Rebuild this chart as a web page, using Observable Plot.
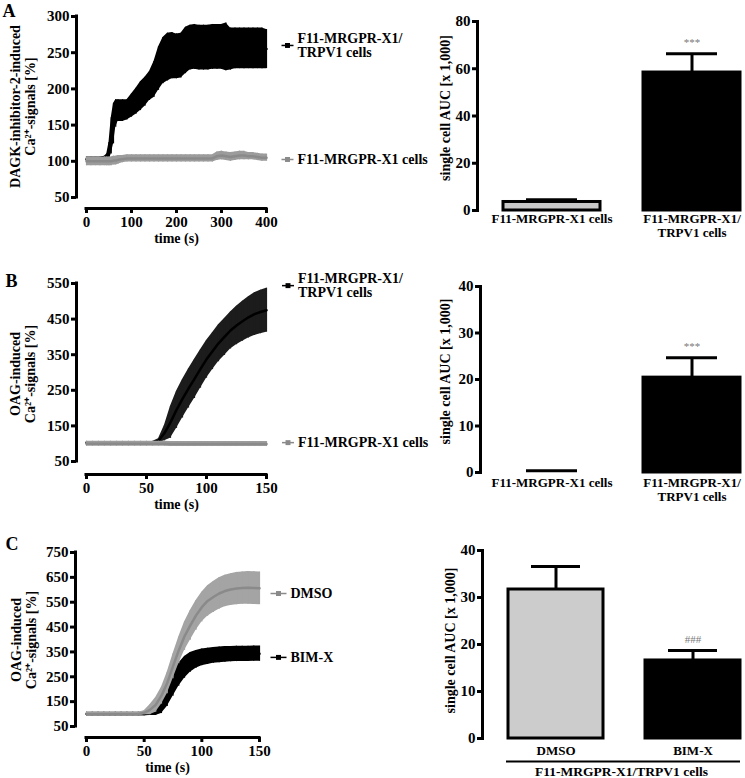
<!DOCTYPE html>
<html><head><meta charset="utf-8">
<script src="https://cdn.jsdelivr.net/npm/d3@7"></script>
<script src="https://cdn.jsdelivr.net/npm/@observablehq/plot@0.6"></script>
<style>
body{margin:0;background:#fff;}
#fig{position:relative;width:745px;height:778px;overflow:hidden;background:#fff;}
#fig > div{position:absolute;}
</style></head><body><div id="fig"></div>
<script>
// ---------- DATA ----------
// Panel A: DAGK-inhibitor-2-induced Ca2+ signals (time course)
const timeA = [0,10,20,30,40,45,50,55,60,65,70,80,90,100,110,120,130,140,150,160,170,180,190,200,210,220,230,240,250,260,270,280,290,300,310,320,330,340,350,360,370,380,390,400];
const trpv1A_mean = [103,103,103,103,104,106,114,135,152,166,170,170,171,177,183,190,196,204,213,228,239,244,246,245,246,253,257,258,257,257,257,258,258,258,258,255,256,256,256,256,256,256,256,255];
const trpv1A_sem  = [3,3,3,3,3,4,12,25,28,19,15,15,14,16,18,20,20,20,25,30,32,33,32,31,31,32,31,31,31,31,31,31,31,31,33,29,28,28,28,28,28,28,28,27];
const x1A_mean = [100,100,100,100,100,100,100,100,101,101,102,103,104,104,104,104,104,104,104,104,104,104,104,104,104,104,104,104,104,104,104,104,107,108,107,106,107,108,108,107,107,106,105,105];
const x1A_sem  = [6,6,6,6,6,6,6,6,6,6,6,5,5,5,5,5,5,5,5,5,5,5,5,5,5,5,5,5,5,5,5,5,6,6,6,6,6,6,6,5,5,5,5,5];
// Panel A: AUC
const aucCatsAB = ["F11-MRGPR-X1 cells", "F11-MRGPR-X1/\nTRPV1 cells"];
const aucA_mean = [3.6, 58.4];
const aucA_sem  = [0.9, 7.9];
const aucA_sig  = ["", "***"];

// Panel B: OAG-induced Ca2+ signals
const timeB = [0,5,10,15,20,25,30,35,40,45,50,55,60,65,70,75,80,85,90,95,100,105,110,115,120,125,130,135,140,145,150];
const trpv1B_mean = [103,103,103,103,103,103,103,103,103,103,103,103,108,130,160,195,226,255,282,310,337,360,382,400,418,432,444,455,464,470,475];
const trpv1B_sem  = [3,3,3,3,3,3,3,3,3,3,3,3,6,22,45,52,54,55,55,54,53,52,52,52,52,54,56,58,60,61,62];
const x1B_mean = [100,100,100,100,100,100,100,100,100,100,100,100,100,100,99,99,99,99,99,99,99,99,99,99,99,99,99,99,99,99,99];
const x1B_sem  = [7,7,7,7,7,7,7,7,7,7,7,7,7,7,7,7,7,7,7,7,7,7,7,7,7,7,7,7,7,7,7];
const aucB_mean = [0.3, 20.4];
const aucB_sem  = [0.1, 4.3];
const aucB_sig  = ["", "***"];

// Panel C: OAG-induced Ca2+ signals, DMSO vs BIM-X
const timeC = [0,5,10,15,20,25,30,35,40,45,50,55,60,65,70,75,80,85,90,95,100,105,110,115,120,125,130,135,140,145,150];
const dmsoC_mean = [100,100,100,100,100,100,100,100,100,100,105,117,137,174,225,292,356,413,457,497,530,555,571,585,595,601,605,607,608,607,606];
const dmsoC_sem  = [7,7,7,7,7,7,7,7,7,7,8,20,30,34,43,50,54,57,60,60,60,61,62,63,63,64,65,65,66,66,66];
const bimxC_mean = [100,100,100,100,100,100,100,100,100,100,100,102,108,130,170,218,258,288,308,320,328,332,336,338,340,341,342,342,342,343,343];
const bimxC_sem  = [7,7,7,7,7,7,7,7,7,7,7,8,14,28,40,46,46,44,40,36,34,33,32,32,32,31,31,31,31,31,31];
const aucCatsC = ["DMSO", "BIM-X"];
const aucC_mean = [31.7, 16.6];
const aucC_sem  = [4.9, 2.1];
const aucC_sig  = ["", "###"];

const xTicksA = [0,100,200,300,400];
const yTicksA = [50,100,150,200,250,300];
const xTicksBC = [0,50,100,150];
const yTicksB = [50,150,250,350,450,550];
const yTicksC = [50,150,250,350,450,550,650,750];

// ---------- DRAWING ----------
const FONT = "'Liberation Serif','Times New Roman',serif";
const BLACK = "#000", GRAY_BAND = "#9c9c9c", GRAY_LINE = "#8a8a8a";
const hline = (h) => ({draw(ctx){ ctx.moveTo(-h,0); ctx.lineTo(h,0); }});
const fig = document.getElementById("fig");
function place(svg, left, top){
  const d = document.createElement("div");
  d.style.left = left + "px"; d.style.top = top + "px";
  d.appendChild(svg); fig.appendChild(d);
}
const baseStyle = {fontFamily: FONT, fontSize: "14px", fontWeight: "bold", background: "transparent", overflow: "visible", color: "black"};

function rows(t, m, s){ return t.map((x,i)=>({t:x, m:m[i], lo:m[i]-s[i], hi:m[i]+s[i]})); }

function timePanel(o){
  const marks = [];
  for (const s of o.series){
    const d = rows(o.time, s.mean, s.sem);
    marks.push(Plot.areaY(d, {x:"t", y1:"lo", y2:"hi", fill:s.band}));
    marks.push(Plot.ruleX(d, {x:"t", y1:"lo", y2:"hi", stroke:s.band, strokeWidth:1.2}));
    marks.push(Plot.lineY(d, {x:"t", y:"m", stroke:s.line, strokeWidth:2.5}));
  }
  const [y0,y1] = o.yDomain, xMax = o.xDomain[1];
  marks.push(
    Plot.ruleX([0], {y1:y0, y2:y1, dx:-o.insetLeft, strokeWidth:3, strokeLinecap:"square"}),
    Plot.ruleY([y0], {x1:0, x2:xMax, dy:o.insetBottom, strokeWidth:3, strokeLinecap:"square"}),
    Plot.axisY({ticks:o.yTicks, tickSize:5, strokeWidth:3, tickPadding:2, label:null, fontSize:15}),
    Plot.axisX({ticks:o.xTicks, tickSize:5, strokeWidth:3, tickPadding:3, label:null, fontSize:15}),
    Plot.text(["time (s)"], {frameAnchor:"bottom", dy:30, dx:o.timeDx, lineAnchor:"middle"}),
    Plot.text([o.ytitle], {frameAnchor:"left", rotate:-90, dx:o.titleDx, dy:o.titleDy, lineHeight:1.07, lineAnchor:"middle", textAnchor:"middle"}),
    Plot.text([o.letter], {frameAnchor:"top-left", dx:o.letterDx, dy:o.letterDy, fontSize:18, textAnchor:"start", lineAnchor:"middle"})
  );
  for (const L of o.legend){
    marks.push(
      Plot.dot([L], {x:xMax, y:L.ly, dx:o.legDx, symbol:hline(o.legHalf), stroke:L.color, strokeWidth:1.5}),
      Plot.dot([L], {x:xMax, y:L.ly, dx:o.legDx, symbol:"square", fill:L.color, r:2.8}),
      Plot.text([L], {x:xMax, y:L.ly, dx:o.legDx + o.legHalf + 4, text:"label", textAnchor:"start", lineHeight:1.0, lineAnchor:"middle"})
    );
  }
  return Plot.plot({
    width:o.width, height:o.height,
    marginLeft:o.ml, marginRight:o.mr, marginTop:o.mt, marginBottom:o.mb,
    x:{domain:o.xDomain, insetLeft:o.insetLeft},
    y:{domain:o.yDomain, insetBottom:o.insetBottom},
    style: baseStyle,
    marks
  });
}

function barPanel(o){
  const d = o.cats.map((c,i)=>({c, v:o.mean[i], e:o.sem[i], sig:o.sig[i], fill:o.fills[i]}));
  const marks = [
    Plot.barY(d.filter(r=>r.v >= 1), {x:"c", y:"v", fill:"fill", stroke:BLACK, strokeWidth:3}),
    Plot.ruleX(d, {x:"c", y1:"v", y2:r=>r.v+r.e, strokeWidth:3}),
    Plot.tickY(d, {x:"c", y:r=>r.v+r.e, strokeWidth:3, insetLeft:o.capInset, insetRight:o.capInset}),
    Plot.text(d.filter(r=>r.sig), {x:"c", y:r=>r.v+r.e, text:"sig", dy:-11, fill:"#7a7a7a", fontSize:11, fontWeight:"normal"}),
    Plot.frame({anchor:"left", strokeWidth:3}),
    Plot.axisY({ticks:o.yTicks, tickSize:5, strokeWidth:3, tickPadding:2, label:null, fontSize:15}),
    Plot.axisX({tickSize:0, tickPadding:o.xPad, label:null, fontSize:o.catFont, lineHeight:1.05}),
    Plot.text(["single cell AUC [x 1,000]"], {frameAnchor:"left", rotate:-90, dx:o.titleDx, dy:o.titleDy, lineAnchor:"middle", textAnchor:"middle"})
  ];
  if (o.group){
    marks.push(
      Plot.ruleY([0], {dy:23, insetLeft:o.insetLeft - 1, strokeWidth:2}),
      Plot.text([o.group], {frameAnchor:"bottom", dy:33, dx:10, fontSize:13.5, lineAnchor:"middle"})
    );
  }
  return Plot.plot({
    width:o.width, height:o.height,
    marginLeft:o.ml, marginRight:o.mr, marginTop:o.mt, marginBottom:o.mb,
    x:{domain:o.cats, paddingInner:0.31, paddingOuter:0, insetLeft:o.insetLeft},
    y:{domain:o.yDomain},
    color:{type:"identity"},
    style: baseStyle,
    marks
  });
}

// Panel A
place(timePanel({
  width:420, height:245, ml:76, mr:154, mt:16, mb:37, insetLeft:10, insetBottom:11,
  time:timeA, xDomain:[0,400], yDomain:[50,300], xTicks:xTicksA, yTicks:yTicksA,
  series:[
    {mean:trpv1A_mean, sem:trpv1A_sem, band:BLACK, line:BLACK},
    {mean:x1A_mean, sem:x1A_sem, band:GRAY_BAND, line:GRAY_LINE}
  ],
  legend:[
    {label:"F11-MRGPR-X1/\nTRPV1 cells", color:BLACK, ly:260},
    {label:"F11-MRGPR-X1 cells", color:GRAY_LINE, ly:102.5}
  ],
  legDx:21, legHalf:6,
  ytitle:"DAGK-inhibitor-2-induced\nCa²⁺-signals [%]", titleDx:-54, titleDy:-6,
  letter:"A", letterDx:-74, letterDy:-5, timeDx:5
}), 0, 0);

place(barPanel({
  width:325, height:245, ml:57, mr:5, mt:21, mb:35, insetLeft:25,
  cats:aucCatsAB, mean:aucA_mean, sem:aucA_sem, sig:aucA_sig, fills:["#c8c8c8", BLACK],
  yDomain:[0,80], yTicks:[0,20,40,60,80], capInset:23, xPad:3, catFont:13,
  titleDx:-32, titleDy:-8
}), 420, 0);

// Panel B
place(timePanel({
  width:420, height:255, ml:76, mr:154, mt:28, mb:36, insetLeft:10, insetBottom:13,
  time:timeB, xDomain:[0,150], yDomain:[50,550], xTicks:xTicksBC, yTicks:yTicksB,
  series:[
    {mean:trpv1B_mean, sem:trpv1B_sem, band:"#1c1c1c", line:BLACK},
    {mean:x1B_mean, sem:x1B_sem, band:GRAY_BAND, line:GRAY_LINE}
  ],
  legend:[
    {label:"F11-MRGPR-X1/\nTRPV1 cells", color:BLACK, ly:544},
    {label:"F11-MRGPR-X1 cells", color:GRAY_LINE, ly:103}
  ],
  legDx:21.5, legHalf:6,
  ytitle:"OAG-induced\nCa²⁺-signals [%]", titleDx:-54, titleDy:-5,
  letter:"B", letterDx:-71, letterDy:-2, timeDx:5
}), 0, 255);

place(barPanel({
  width:325, height:255, ml:60, mr:5, mt:31, mb:38, insetLeft:22,
  cats:aucCatsAB, mean:aucB_mean, sem:aucB_sem, sig:aucB_sig, fills:["#c8c8c8", BLACK],
  yDomain:[0,40], yTicks:[0,10,20,30,40], capInset:23, xPad:5, catFont:13,
  titleDx:-35, titleDy:-8
}), 420, 255);

// Panel C
place(timePanel({
  width:420, height:278, ml:75, mr:161, mt:52, mb:41, insetLeft:11, insetBottom:11,
  time:timeC, xDomain:[0,150], yDomain:[50,750], xTicks:xTicksBC, yTicks:yTicksC,
  series:[
    {mean:bimxC_mean, sem:bimxC_sem, band:BLACK, line:BLACK},
    {mean:dmsoC_mean, sem:dmsoC_sem, band:"#a4a4a4", line:GRAY_LINE}
  ],
  legend:[
    {label:"DMSO", color:GRAY_LINE, ly:585},
    {label:"BIM-X", color:BLACK, ly:328}
  ],
  legDx:19, legHalf:8,
  ytitle:"OAG-induced\nCa²⁺-signals [%]", titleDx:-52, titleDy:-5,
  letter:"C", letterDx:-70, letterDy:-8, timeDx:0
}), 0, 500);

place(barPanel({
  width:325, height:278, ml:62, mr:5, mt:50, mb:40, insetLeft:25,
  cats:aucCatsC, mean:aucC_mean, sem:aucC_sem, sig:aucC_sig, fills:["#cccccc", BLACK],
  yDomain:[0,40], yTicks:[0,10,20,30,40], capInset:23, xPad:7, catFont:13,
  titleDx:-32, titleDy:-4, group:"F11-MRGPR-X1/TRPV1 cells"
}), 420, 500);
</script></body></html>
